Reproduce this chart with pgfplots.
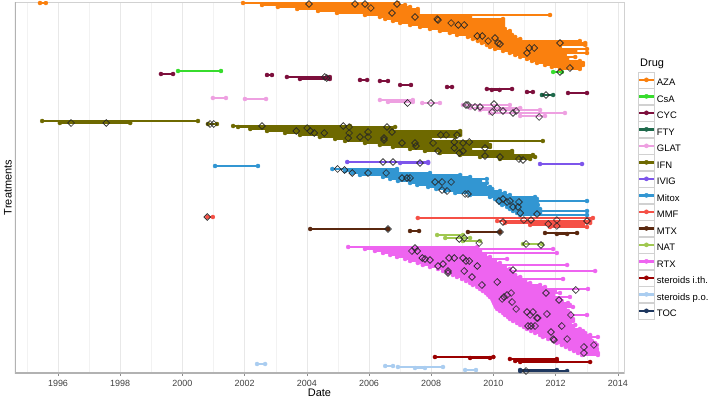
\documentclass[border=0pt]{standalone}
\usepackage{fontspec}
\setmainfont{Liberation Sans}
\usepackage{pgfplots}
\usepackage{pgfplotstable}
\pgfplotsset{compat=1.18}

\definecolor{cAZA}{RGB}{250,128,14}
\definecolor{cCsA}{RGB}{55,220,45}
\definecolor{cCYC}{RGB}{125,15,60}
\definecolor{cFTY}{RGB}{30,105,75}
\definecolor{cGLAT}{RGB}{238,160,225}
\definecolor{cIFN}{RGB}{110,105,0}
\definecolor{cIVIG}{RGB}{125,85,235}
\definecolor{cMitox}{RGB}{50,150,210}
\definecolor{cMMF}{RGB}{245,80,70}
\definecolor{cMTX}{RGB}{90,40,15}
\definecolor{cNAT}{RGB}{160,200,80}
\definecolor{cRTX}{RGB}{238,100,240}
\definecolor{cSI}{RGB}{155,0,0}
\definecolor{cSP}{RGB}{170,205,240}
\definecolor{cTOC}{RGB}{30,55,95}

% columns: start (decimal year), end (decimal year), row
\pgfplotstableread{
s e y
1995.42 1995.61 370
2001.95 2006.93 370
2002.56 2007.16 368
2003.07 2007.32 366
2003.69 2007.57 364
2004.36 2007.57 362
2004.97 2007.57 360
2005.87 2011.82 358
2006.35 2009.25 356
2006.52 2010.31 354
2006.77 2010.31 352
2007.00 2010.31 350
2007.32 2010.31 348
2007.64 2010.31 346
2007.96 2010.37 344
2008.28 2010.53 342
2008.60 2010.53 340
2008.83 2010.60 338
2009.18 2010.70 336
2009.34 2010.86 334
2009.50 2012.78 332
2009.63 2012.95 330
2009.79 2012.95 328
2009.89 2012.14 326
2010.05 2013.01 324
2010.31 2012.63 322
2010.53 2013.01 320
2010.70 2012.30 318
2010.86 2012.63 316
2011.08 2012.37 314
2011.24 2012.78 312
2011.40 2012.88 310
2011.66 2012.88 308
2011.88 2012.78 306
2012.14 2012.78 304
}\tAZA
\pgfplotstableread{
s e y
1999.86 2001.24 302
2011.92 2012.20 301
}\tCsA
\pgfplotstableread{
s e y
1999.31 1999.70 299
2002.72 2002.88 298
2003.36 2004.74 296
2003.78 2004.74 294
2005.71 2005.94 293
2006.35 2006.61 292
2007.00 2007.35 288
2008.51 2008.67 286
2009.79 2010.60 284
2009.95 2010.20 283
2011.08 2011.27 281
2012.40 2013.01 280
}\tCYC
\pgfplotstableread{
s e y
2011.56 2011.92 278
}\tFTY
\pgfplotstableread{
s e y
2000.98 2001.40 275
2002.01 2002.69 274
2006.35 2007.41 273
2006.61 2007.41 271
2007.71 2008.28 270
2009.02 2010.53 268
2009.25 2010.86 265
2009.57 2011.50 263
2009.89 2012.30 260
2010.86 2011.66 257
}\tGLAT
\pgfplotstableread{
s e y
1995.49 2000.50 252
1996.06 1998.32 250
2000.82 2001.11 249
2001.63 2005.39 247
2001.79 2006.84 246
2002.18 2006.74 244
2002.72 2008.93 242
2003.30 2008.93 240
2003.78 2008.93 238
2004.42 2008.77 236
2004.91 2007.96 234
2005.23 2011.59 232
2005.87 2009.79 230
2006.35 2009.89 228
2006.77 2009.89 226
2007.32 2009.25 224
2007.80 2010.60 222
2008.28 2010.60 220
2008.93 2011.27 218
2009.57 2011.34 216
2010.21 2011.18 214
}\tIFN
\pgfplotstableread{
s e y
2005.30 2007.90 211
2007.00 2007.90 210
2011.50 2012.85 209
}\tIVIG
\pgfplotstableread{
s e y
2001.05 2002.43 207
2004.82 2006.90 204
2005.23 2006.90 202
2005.46 2007.96 200
2005.71 2008.93 198
2006.45 2009.25 196
2006.68 2009.79 194
2006.93 2009.57 192
2007.32 2009.79 190
2007.55 2009.73 188
2007.90 2009.89 186
2008.16 2009.96 184
2008.45 2010.21 182
2008.77 2010.37 180
2009.25 2010.53 178
2009.89 2011.34 176
2010.05 2011.40 174
2010.15 2013.01 172
2010.21 2011.40 170
2010.28 2011.43 168
2010.44 2011.40 166
2010.53 2011.50 164
2010.63 2013.01 162
2010.76 2011.50 160
2010.86 2013.01 158
}\tMitox
\pgfplotstableread{
s e y
2000.80 2000.98 156
2007.57 2013.20 155
2010.12 2013.11 152
2010.37 2013.11 150
2011.18 2012.88 148
2011.82 2013.01 146
}\tMMF
\pgfplotstableread{
s e y
2004.11 2006.61 144
2007.32 2007.61 142
2009.18 2010.21 141
2011.66 2012.69 140
2012.04 2012.37 139
}\tMTX
\pgfplotstableread{
s e y
2008.19 2009.02 138
2008.45 2009.25 135
2009.02 2009.57 132
2010.95 2011.56 129
}\tNAT
\pgfplotstableread{
s e y
2005.33 2009.48 126
2005.87 2011.92 124
2006.19 2009.57 122
2006.45 2012.04 120
2006.68 2009.73 118
2006.90 2009.89 116
2007.16 2010.44 114
2007.32 2010.05 112
2007.57 2010.21 110
2007.73 2012.37 108
2007.96 2010.37 106
2008.22 2010.53 104
2008.38 2013.27 102
2008.54 2010.60 100
2008.70 2010.70 98
2008.83 2010.86 96
2008.99 2012.24 94
2009.12 2011.02 92
2009.25 2011.18 90
2009.34 2011.50 88
2009.48 2011.66 86
2009.57 2013.04 84
2009.66 2011.98 82
2009.76 2012.14 80
2009.83 2011.92 78
2009.89 2012.46 76
2009.96 2012.14 74
2009.99 2012.20 72
2010.02 2012.40 70
2010.05 2012.46 68
2010.08 2012.56 66
2010.12 2012.30 64
2010.21 2012.40 62
2010.31 2012.46 60
2010.37 2013.01 58
2010.47 2012.46 56
2010.53 2012.56 54
2010.63 2012.56 52
2010.76 2012.46 50
2010.86 2012.63 48
2010.98 2012.56 46
2011.08 2012.78 44
2011.21 2012.88 42
2011.34 2012.95 40
2011.50 2013.11 38
2011.59 2013.36 36
2011.76 2013.11 34
2011.92 2013.17 32
2012.04 2013.27 30
2012.20 2013.33 28
2012.33 2013.27 26
2012.46 2013.33 24
2012.59 2013.33 22
2012.72 2013.36 20
2012.85 2013.36 18
}\tRTX
\pgfplotstableread{
s e y
2008.12 2010.00 16
2009.25 2009.89 15
2010.53 2012.04 14
2010.70 2012.04 12
2010.86 2013.11 11
}\tSI
\pgfplotstableread{
s e y
2002.40 2002.66 9
2006.52 2006.77 7
2006.93 2008.38 6
2007.48 2007.80 5
2009.09 2009.44 3
}\tSP
\pgfplotstableread{
s e y
2010.86 2012.04 3
2010.86 2012.37 2
}\tTOC
% events (diamonds)
\pgfplotstableread{
x y
2004.07 369
2005.55 369
2005.87 369
2006.06 365
2006.90 369
2006.74 360
2007.48 356
2008.19 354
2008.22 353
2008.64 350
2008.87 348
2009.06 348
2009.48 337
2009.64 337
2009.83 332
2010.05 335
2010.15 330
2010.21 329
2011.08 320
2011.15 325
2011.31 325
2012.14 330
2012.46 305
2012.14 301
2004.58 296
2004.64 295
2011.69 278
2007.24 270
2007.99 270
2009.12 268
2009.18 268
2009.41 266
2009.57 266
2010.02 269
2010.12 265
2009.96 261
2010.31 262
2010.63 260
2010.73 262
2011.47 256
1996.42 250
1997.55 250
2000.89 249
2001.01 249
2002.56 247
2003.66 242
2004.01 245
2004.11 242
2004.24 240
2004.56 240
2005.17 247
2005.36 246
2005.36 240
2005.33 235
2005.71 236
2005.97 241
2005.97 236
2006.48 235
2006.48 233
2006.58 246
2006.74 241
2007.06 230
2007.48 230
2007.51 227
2008.06 230
2008.22 222
2008.31 238
2008.48 238
2008.83 238
2008.74 231
2009.02 230
2009.22 231
2008.74 225
2008.90 220
2009.02 222
2009.73 225
2009.73 217
2010.21 216
2010.82 214
2010.95 213
2006.45 211
2006.77 211
2007.64 210
2004.99 204
2005.21 203
2005.46 200
2005.97 200
2006.55 200
2007.06 195
2007.22 195
2007.32 195
2008.12 191
2008.35 191
2008.64 191
2008.35 183
2008.51 182
2009.09 179
2009.18 179
2010.18 172
2010.31 174
2010.44 171
2010.53 172
2010.82 171
2010.63 166
2010.79 166
2010.86 160
2011.40 159
2000.80 156
2010.31 151
2010.98 153
2011.21 153
2011.76 149
2012.04 153
2012.04 147
2013.01 152
2006.61 144
2010.21 141
2008.90 134
2009.06 135
2009.54 130
2011.05 129
2011.53 128
2007.38 122
2007.48 125
2007.55 122
2007.71 115
2007.80 114
2007.96 113
2008.22 107
2008.38 109
2008.57 115
2008.74 115
2008.54 102
2008.54 100
2009.02 115
2009.12 112
2009.22 112
2009.06 102
2009.31 96
2009.48 107
2009.63 88
2010.12 91
2010.63 103
2010.28 74
2010.34 76
2010.44 78
2010.57 80
2010.60 71
2010.73 64
2011.08 61
2011.18 58
2011.27 61
2011.40 55
2011.43 55
2011.11 47
2011.21 47
2011.34 47
2011.72 59
2011.69 80
2012.11 73
2012.65 83
2011.85 41
2011.92 34
2011.95 33
2012.37 34
2012.20 47
2012.49 58
2012.91 26
2012.91 20
2013.23 28
2011.05 2
}\tEV

\pgfplotsset{
  drug/.style={forget plot, only marks, mark=*, mark size=2.1bp,
    mark options={draw=#1, fill=#1, line width=0.2bp},
    error bars/.cd, x dir=plus, x explicit,
    error bar style={line width=2.6bp, draw=#1},
    error mark=*,
    error mark options={draw=#1, fill=#1, line width=0.2bp, mark size=2.1bp}},
}

\begin{document}
\begin{tikzpicture}
\useasboundingbox (-15bp,-28bp) rectangle (693bp,373bp);
\begin{axis}[
  scale only axis,
  width=609bp, height=371bp,
  xmin=1994.617, xmax=2014.199,
  ymin=0, ymax=371,
  axis line style={draw=black!18, line width=0.5bp},
  xtick={1996,1998,...,2014},
  xticklabels={1996,1998,2000,2002,2004,2006,2008,2010,2012,2014},
  minor xtick={1995,1997,...,2013},
  ytick=\empty,
  xtick pos=left,
  tick align=outside,
  major tick length=2.5bp,
  minor tick length=0bp,
  tick style={draw=black!45, line width=0.5bp},
  xmajorgrids, xminorgrids,
  major grid style={draw=black!9, line width=0.5bp},
  minor grid style={draw=black!5, line width=0.4bp},
  xticklabel style={anchor=north, inner sep=0pt, yshift=-4.3bp,
    font=\fontsize{9}{10}\selectfont, text=black!75},
  xlabel={Date},
  xlabel style={at={(axis description cs:0.5,-0.0535)}, anchor=center,
    font=\fontsize{11}{13}\selectfont},
  ylabel={Treatments},
  ylabel style={at={(axis description cs:-0.0115,0.5)}, anchor=center,
    font=\fontsize{11}{13}\selectfont},
  legend cell align=left,
  legend style={at={(axis description cs:1.023,0.8124)}, anchor=north west,
    draw=none, fill=none, inner sep=0pt, outer sep=0pt,
    row sep=0pt, column sep=2bp,
    font=\fontsize{9.5}{11}\selectfont,
    nodes={inner sep=0pt}},
  legend image code/.code={
    \draw[draw=black!18, fill=white, line width=0.5bp] (0bp,-4.7bp) rectangle (16.4bp,11.3bp);
    \draw[line width=2.5bp] (1bp,3.3bp) -- (15.4bp,3.3bp);
    \fill (8.2bp,3.3bp) circle (2.1bp);
  },
]
\addplot[drug=cAZA] table[x=s, y=y, x error expr=\thisrow{e}-\thisrow{s}] {\tAZA};
\addplot[drug=cCsA] table[x=s, y=y, x error expr=\thisrow{e}-\thisrow{s}] {\tCsA};
\addplot[drug=cCYC] table[x=s, y=y, x error expr=\thisrow{e}-\thisrow{s}] {\tCYC};
\addplot[drug=cFTY] table[x=s, y=y, x error expr=\thisrow{e}-\thisrow{s}] {\tFTY};
\addplot[drug=cGLAT] table[x=s, y=y, x error expr=\thisrow{e}-\thisrow{s}] {\tGLAT};
\addplot[drug=cIFN] table[x=s, y=y, x error expr=\thisrow{e}-\thisrow{s}] {\tIFN};
\addplot[drug=cIVIG] table[x=s, y=y, x error expr=\thisrow{e}-\thisrow{s}] {\tIVIG};
\addplot[drug=cMitox] table[x=s, y=y, x error expr=\thisrow{e}-\thisrow{s}] {\tMitox};
\addplot[drug=cMMF] table[x=s, y=y, x error expr=\thisrow{e}-\thisrow{s}] {\tMMF};
\addplot[drug=cMTX] table[x=s, y=y, x error expr=\thisrow{e}-\thisrow{s}] {\tMTX};
\addplot[drug=cNAT] table[x=s, y=y, x error expr=\thisrow{e}-\thisrow{s}] {\tNAT};
\addplot[drug=cRTX] table[x=s, y=y, x error expr=\thisrow{e}-\thisrow{s}] {\tRTX};
\addplot[drug=cSI] table[x=s, y=y, x error expr=\thisrow{e}-\thisrow{s}] {\tSI};
\addplot[drug=cSP] table[x=s, y=y, x error expr=\thisrow{e}-\thisrow{s}] {\tSP};
\addplot[drug=cTOC] table[x=s, y=y, x error expr=\thisrow{e}-\thisrow{s}] {\tTOC};
\addplot[forget plot, only marks, mark=square, mark size=2.4bp,
  mark options={rotate=45, draw=black!85, fill=none, line width=0.65bp}]
  table[x=x, y=y] {\tEV};

\draw[draw=black!30, line width=1.4bp] (rel axis cs:0,1) -- (rel axis cs:0,0) -- (rel axis cs:1,0);

\addlegendimage{color=cAZA}\addlegendentry{AZA}
\addlegendimage{color=cCsA}\addlegendentry{CsA}
\addlegendimage{color=cCYC}\addlegendentry{CYC}
\addlegendimage{color=cFTY}\addlegendentry{FTY}
\addlegendimage{color=cGLAT}\addlegendentry{GLAT}
\addlegendimage{color=cIFN}\addlegendentry{IFN}
\addlegendimage{color=cIVIG}\addlegendentry{IVIG}
\addlegendimage{color=cMitox}\addlegendentry{Mitox}
\addlegendimage{color=cMMF}\addlegendentry{MMF}
\addlegendimage{color=cMTX}\addlegendentry{MTX}
\addlegendimage{color=cNAT}\addlegendentry{NAT}
\addlegendimage{color=cRTX}\addlegendentry{RTX}
\addlegendimage{color=cSI}\addlegendentry{steroids i.th.}
\addlegendimage{color=cSP}\addlegendentry{steroids p.o.}
\addlegendimage{color=cTOC}\addlegendentry{TOC}
\end{axis}
\node[anchor=base west, inner sep=0pt, font=\fontsize{11}{13}\selectfont]
  at (625bp,306bp) {Drug};
\end{tikzpicture}
\end{document}
